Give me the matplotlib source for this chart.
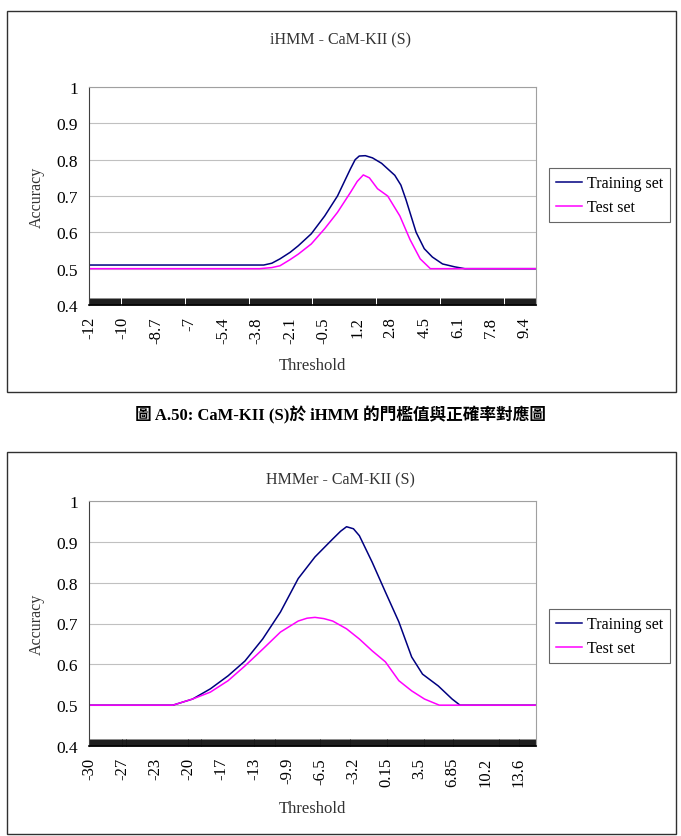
import numpy as np
import matplotlib.pyplot as plt
from matplotlib.patches import Rectangle
from matplotlib.ticker import MultipleLocator

plt.switch_backend("Agg")

# --- data: iHMM (top) ---
ihmm_x_train = [-12, -3.4, -3.0, -2.6, -2.1, -1.7, -1.06, -0.4, 0.23, 0.87, 1.1, 1.3, 1.6, 1.95, 2.4, 3.05, 3.35, 3.6, 4.1, 4.5, 4.9, 5.4, 6.0, 6.5, 10.0]
ihmm_train = [0.51, 0.51, 0.515, 0.527, 0.545, 0.563, 0.596, 0.645, 0.70, 0.775, 0.80, 0.81, 0.811, 0.805, 0.79, 0.757, 0.73, 0.69, 0.60, 0.555, 0.532, 0.513, 0.505, 0.50, 0.50]
ihmm_x_test = [-12, -3.6, -3.0, -2.6, -2.1, -1.7, -1.06, -0.4, 0.23, 0.87, 1.2, 1.5, 1.8, 2.2, 2.7, 3.3, 3.8, 4.3, 4.8, 10.0]
ihmm_test = [0.50, 0.50, 0.503, 0.508, 0.525, 0.54, 0.568, 0.61, 0.655, 0.71, 0.74, 0.758, 0.75, 0.72, 0.70, 0.645, 0.58, 0.527, 0.50, 0.50]
ihmm_ticks = ["-12", "-10", "-8.7", "-7", "-5.4", "-3.8", "-2.1", "-0.5", "1.2", "2.8", "4.5", "6.1", "7.8", "9.4"]

# --- data: HMMer (bottom) ---
hmmer_x_train = [-30, -21.5, -19.5, -17.7, -15.9, -14.2, -12.4, -10.6, -8.8, -7.1, -5.3, -4.5, -3.9, -3.2, -2.6, -1.3, 0.04, 1.4, 2.7, 3.8, 5.4, 6.8, 7.6, 15.3]
hmmer_train = [0.50, 0.50, 0.515, 0.54, 0.572, 0.608, 0.662, 0.728, 0.81, 0.863, 0.907, 0.926, 0.937, 0.932, 0.915, 0.85, 0.777, 0.704, 0.618, 0.576, 0.547, 0.515, 0.50, 0.50]
hmmer_x_test = [-30, -21.5, -19.5, -17.7, -15.9, -14.2, -12.4, -10.6, -8.8, -7.9, -7.1, -6.2, -5.3, -3.9, -2.6, -1.3, 0.04, 1.4, 2.7, 4.0, 5.5, 15.3]
hmmer_test = [0.50, 0.50, 0.515, 0.532, 0.56, 0.596, 0.637, 0.679, 0.706, 0.713, 0.715, 0.712, 0.706, 0.687, 0.662, 0.633, 0.606, 0.56, 0.535, 0.515, 0.50, 0.50]
hmmer_ticks = ["-30", "-27", "-23", "-20", "-17", "-13", "-9.9", "-6.5", "-3.2", "0.15", "3.5", "6.85", "10.2", "13.6"]

SERIF = ["Liberation Serif", "DejaVu Serif"]
NAVY = "#000080"
MAGENTA = "#FF00FF"

fig = plt.figure(figsize=(6.81, 8.37), dpi=100)
W, H = 681, 837


def fx(px):
    return px / W


def fy(py):
    return 1 - py / H


def draw_chart(rect, title, title_y, x_tr, y_tr, x_te, y_te, ticks, x0, step, xmax, minor_step, leg_y):
    ax = fig.add_axes(rect)
    ax.plot(x_tr, y_tr, color=NAVY, lw=1.1, label="Training set")
    ax.plot(x_te, y_te, color=MAGENTA, lw=1.1, label="Test set")
    ax.set_xlim(x0, xmax)
    ax.set_ylim(0.4, 1.0)
    ax.set_yticks([0.4, 0.5, 0.6, 0.7, 0.8, 0.9, 1.0])
    ax.set_yticklabels(["0.4", "0.5", "0.6", "0.7", "0.8", "0.9", "1"], family=SERIF, fontsize=12.5)
    ax.yaxis.grid(True, color="#c0c0c0", lw=0.8)
    ax.set_axisbelow(True)
    ax.tick_params(axis="y", length=0, pad=8)
    pos = [x0 + i * step for i in range(len(ticks))]
    ax.set_xticks(pos)
    ax.set_xticklabels(ticks, rotation=90, family=SERIF, fontsize=12)
    ax.xaxis.set_minor_locator(MultipleLocator(minor_step))
    ax.tick_params(axis="x", which="both", direction="in", length=5, width=0.7, color="#181818", pad=8)
    for s in ["top", "right"]:
        ax.spines[s].set_color("#a0a0a0")
    ax.spines["left"].set_color("#404040")
    ax.spines["bottom"].set_color("black")
    ax.spines["bottom"].set_linewidth(1.2)
    ax.set_ylabel("Accuracy", family=SERIF, fontsize=11.5, color="#333333", labelpad=8)
    ax.set_xlabel("Threshold", family=SERIF, fontsize=12, color="#333333", labelpad=10)
    fig.text(0.5, fy(title_y), title, family=SERIF, fontsize=11.5, color="#333333",
             ha="center", va="center")
    leg = ax.legend(loc="upper left", bbox_to_anchor=(fx(549), fy(leg_y)),
                    bbox_transform=fig.transFigure,
                    prop={"family": SERIF, "size": 11.5}, frameon=True, fancybox=False,
                    edgecolor="#404040", handlelength=1.6, handletextpad=0.3,
                    borderpad=0.45, labelspacing=0.5, borderaxespad=0)
    leg.get_frame().set_linewidth(0.8)
    return ax


draw_chart([fx(89), fy(306), fx(536) - fx(89), fy(88) - fy(306)], "iHMM - CaM-KII (S)", 40,
           ihmm_x_train, ihmm_train, ihmm_x_test, ihmm_test, ihmm_ticks, -12, 1.65, 10.0, 0.05, 169)
draw_chart([fx(89), fy(747), fx(536) - fx(89), fy(502) - fy(747)], "HMMer - CaM-KII (S)", 480,
           hmmer_x_train, hmmer_train, hmmer_x_test, hmmer_test, hmmer_ticks, -30, 3.35, 15.3, 0.1, 610)

# outer chart frames
for top, bot in [(12, 393), (453, 835)]:
    fig.add_artist(Rectangle((fx(7), fy(bot)), fx(676) - fx(7), fy(top) - fy(bot),
                             transform=fig.transFigure, fill=False, edgecolor="#303030", lw=1.0))

# caption
fig.text(0.5, fy(415), "圖 A.50: CaM-KII (S)於 iHMM 的門檻值與正確率對應圖",
         ha="center", va="center", fontsize=12, fontweight="bold",
         family=["Liberation Serif", "Noto Sans CJK TC"])

fig.savefig("out.png", dpi=100)
